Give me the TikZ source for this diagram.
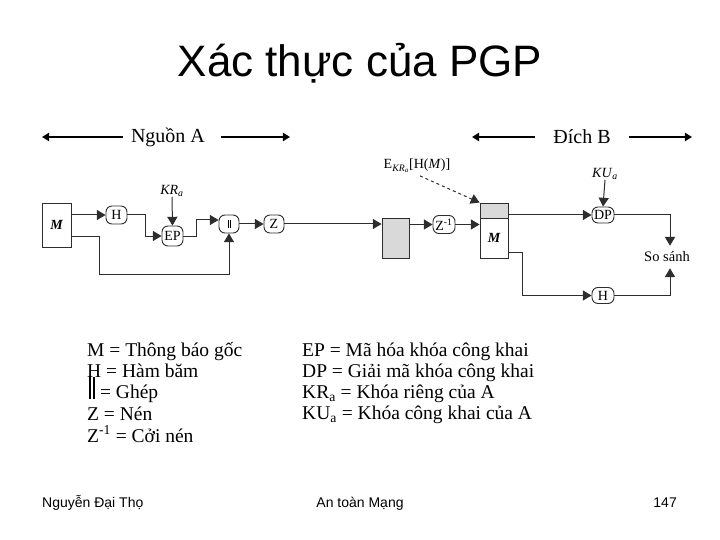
\documentclass[tikz,border=0pt]{standalone}
\usepackage{fontspec}
\setmainfont{Liberation Serif}
\newfontfamily\sansf{Liberation Sans}
\usetikzlibrary{arrows.meta}
\definecolor{boxgray}{RGB}{217,217,217}
\definecolor{linec}{RGB}{45,45,45}
\begin{document}
\begin{tikzpicture}[x=1pt,y=1pt,
  rbox/.style={draw=linec, line width=0.9pt, rounded corners=6pt, minimum width=21pt, minimum height=18pt, inner sep=0.5pt, font=\fontsize{14}{14}\selectfont, fill=white},
  sbox/.style={draw=linec, line width=0.9pt, inner sep=0pt},
  conn/.style={draw=linec, line width=1pt},
  arr/.style={conn, -{Triangle[scale=1.6]}},
  bigarr/.style={draw=black, line width=1.8pt, -{Triangle[scale=0.9]}},
  hdr/.style={font=\fontsize{20}{20}\selectfont, inner sep=0pt},
  leg/.style={anchor=base west, inner sep=0pt, font=\fontsize{19.5}{22}\selectfont},
  foot/.style={anchor=base, inner sep=0pt, font=\sansf\fontsize{14}{14}\selectfont},
  lbl/.style={inner sep=0pt, font=\fontsize{14}{14}\selectfont}
]
\useasboundingbox (0,0) rectangle (720,-540);

% title
\node[font=\sansf\fontsize{44}{44}\selectfont] (title) at (360,-63) {Xác thực của PGP};

% headers
\node[hdr] (NA) at (168,-137) {Nguồn A};
\coordinate (na1) at (42,-137);
\coordinate (na2) at (290,-137);
\draw[bigarr] ([xshift=-8pt]NA.west) -- (na1);
\draw[bigarr] ([xshift=16pt]NA.east) -- (na2);
\node[hdr] (DB) at (582,-137) {Đích B};
\coordinate (db1) at (472,-137);
\coordinate (db2) at (692,-137);
\draw[bigarr] ([xshift=-18pt]DB.west) -- (db1);
\draw[bigarr] ([xshift=18pt]DB.east) -- (db2);

% sender
\node[sbox, minimum width=29pt, minimum height=44pt, font=\fontsize{14}{14}\selectfont\bfseries\itshape] (M1) at (56.5,-225) {M};
\node[rbox] (H1) at (116.5,-215) {H};
\node[rbox, minimum height=20pt] (EP) at (172.5,-236) {EP};
\node[lbl] (KR) at (172,-191) {\textit{KR}\textsubscript{\textit{a}}};
\node[rbox, minimum width=20pt] (cat) at (229,-224) {\rule[-1pt]{0.6pt}{9pt}\hspace{1.6pt}\rule[-1pt]{0.6pt}{9pt}};
\node[rbox, minimum width=20pt] (Z) at (274,-224) {Z};
\coordinate (c1) at (99,-274);

\draw[arr] (M1.east |- H1.west) -- (H1.west);
\draw[arr] (H1.east) -| ([xshift=-16pt]EP.west) -- (EP.west);
\draw[arr] (KR.south) -- (EP.north);
\draw[arr] (EP.east) -| ([xshift=-22pt,yshift=4pt]cat.west) -- ([yshift=4pt]cat.west);
\draw[arr] ([yshift=-11pt]M1.east) -| (c1) -| (cat.south);
\draw[arr] (cat.east) -- (Z.west);

% channel
\node[sbox, fill=boxgray, minimum width=27pt, minimum height=40pt] (G) at (395.5,-238) {};
\draw[arr] (Z.east) -- (G.west |- Z.east);
\node[rbox, minimum width=22pt] (Zi) at (444,-224.5) {Z\textsuperscript{-1}};
\draw[arr] (G.east |- Zi.west) -- (Zi.west);

% receiver
\node[sbox, fill=boxgray, minimum width=28pt, minimum height=15pt] (M2t) at (494,-210.5) {};
\node[sbox, minimum width=28pt, minimum height=40pt, font=\fontsize{14}{14}\selectfont\bfseries\itshape] (M2b) at (494,-238) {M};
\draw[arr] (Zi.east) -- (M2b.west |- Zi.east);
\node[lbl] (EK) at (417,-166) {E\textsubscript{\textit{KR}\textsubscript{\textit{a}}}[H(\textit{M})]};
\draw[arr, dashed] ([xshift=3pt,yshift=-3pt]EK.south) -- (M2t.north west);

\node[rbox, minimum width=22pt, minimum height=16pt] (DP) at (603,-215) {DP};
\node[lbl] (KU) at (605,-174) {\textit{KU}\textsubscript{\textit{a}}};
\node[rbox, minimum width=22pt, minimum height=16pt] (H2) at (603,-295.5) {H};
\node[lbl, font=\fontsize{14.5}{14.5}\selectfont] (SS) at (667,-257) {So sánh};
\coordinate (c2) at (522,-295.5);

\draw[arr] (M2t.east |- DP.west) -- (DP.west);
\draw[arr] (KU.south) -- (DP.north);
\draw[arr] (DP.east) -| ([xshift=3pt,yshift=6pt]SS.north);
\draw[arr] ([yshift=-14.5pt]M2b.east) -| (c2) -- (H2.west);
\draw[arr] (H2.east) -| ([xshift=3pt,yshift=-6pt]SS.south);

% legend left
\node[leg] (L1) at (87,-356) {M = Thông báo gốc};
\node[leg] (L2) at (87,-377) {H = Hàm băm};
\node[leg] (L3) at (89,-398) {\rule[-1pt]{2pt}{22pt}\hspace{2pt}\rule[-1pt]{2pt}{22pt} = Ghép};
\node[leg] (L4) at (87,-420) {Z = Nén};
\node[leg] (L5) at (87,-442) {Z\textsuperscript{-1} = Cởi nén};

% legend right
\node[leg] (R1) at (302,-356) {EP = Mã hóa khóa công khai};
\node[leg] (R2) at (302,-377) {DP = Giải mã khóa công khai};
\node[leg] (R3) at (302,-398) {KR\textsubscript{a} = Khóa riêng của A};
\node[leg] (R4) at (302,-419) {KU\textsubscript{a} = Khóa công khai của A};

% footer
\node[foot, anchor=base west] (F1) at (42,-507) {Nguyễn Đại Thọ};
\node[foot] (F2) at (360,-507) {An toàn Mạng};
\node[foot, anchor=base east] (F3) at (677,-507) {147};
\end{tikzpicture}
\end{document}
